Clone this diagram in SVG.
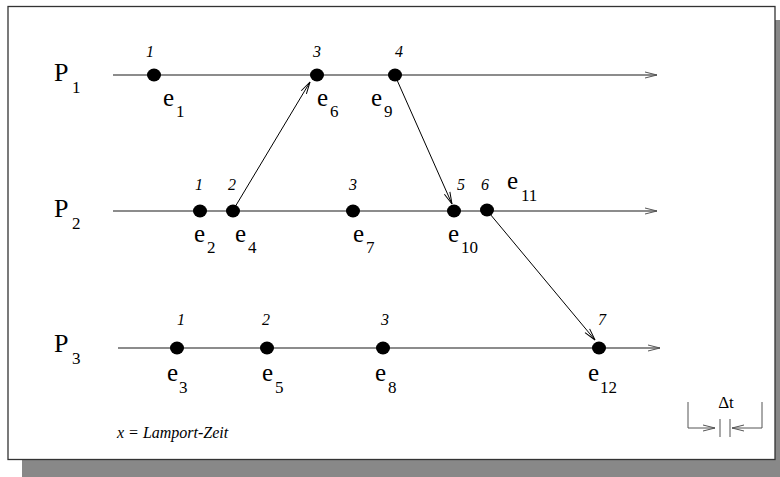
<svg xmlns="http://www.w3.org/2000/svg" width="780" height="477" viewBox="0 0 780 477" font-family="'Liberation Serif', 'DejaVu Serif', serif">
<defs>
<marker id="open" viewBox="0 0 14 8" refX="13" refY="4" markerWidth="14" markerHeight="8" markerUnits="userSpaceOnUse" orient="auto">
<path d="M1,1 L13,4 L1,7" fill="none" stroke="#555" stroke-width="1"/>
</marker>
<marker id="openb" viewBox="0 0 14 8" refX="13" refY="4" markerWidth="14" markerHeight="8" markerUnits="userSpaceOnUse" orient="auto">
<path d="M1,1 L13,4 L1,7" fill="none" stroke="#000" stroke-width="1"/>
</marker>
</defs>
<style>
.tl{stroke:#666;stroke-width:1.6;fill:none;marker-end:url(#open)}
.msg{stroke:#000;stroke-width:1;fill:none;marker-end:url(#openb)}
.dot{fill:#000}
.dt{stroke:#555;stroke-width:1;fill:none}
</style>
<rect x="22" y="20" width="758" height="457" fill="#888"/>
<rect x="8" y="6.5" width="767" height="453" fill="#fff" stroke="#333" stroke-width="1.3"/>

<g id="timelines">
<line class="tl" x1="113" y1="75" x2="657" y2="75"/>
<line class="tl" x1="113" y1="211" x2="657" y2="211"/>
<line class="tl" x1="118" y1="348" x2="660" y2="348"/>
</g>

<g id="connectors">
<line class="msg" x1="235" y1="207" x2="310" y2="82"/>
<line class="msg" x1="397" y1="80" x2="452" y2="204"/>
<line class="msg" x1="490" y1="214" x2="595" y2="340"/>
</g>

<g id="P1"><text font-size="26" x="54" y="81">P</text><text font-size="17" x="72" y="93">1</text></g>
<g id="P2"><text font-size="26" x="54" y="217">P</text><text font-size="17" x="72" y="229">2</text></g>
<g id="P3"><text font-size="26" x="54" y="352">P</text><text font-size="17" x="72" y="364">3</text></g>

<g id="events">
<g id="e1"><ellipse class="dot" cx="154" cy="75" rx="7" ry="6.5"/><text font-size="16" font-style="italic" text-anchor="middle" x="150" y="57">1</text><text font-size="25" x="163" y="106">e</text><text font-size="17" x="176" y="117">1</text></g>
<g id="e6"><ellipse class="dot" cx="317" cy="75" rx="7" ry="6.5"/><text font-size="16" font-style="italic" text-anchor="middle" x="317" y="57">3</text><text font-size="25" x="317" y="106">e</text><text font-size="17" x="330" y="117">6</text></g>
<g id="e9"><ellipse class="dot" cx="395" cy="75" rx="7" ry="6.5"/><text font-size="16" font-style="italic" text-anchor="middle" x="399" y="57">4</text><text font-size="25" x="371" y="106">e</text><text font-size="17" x="384" y="117">9</text></g>

<g id="e2"><ellipse class="dot" cx="200" cy="211" rx="7" ry="6.5"/><text font-size="16" font-style="italic" text-anchor="middle" x="199" y="190">1</text><text font-size="25" x="194" y="242">e</text><text font-size="17" x="207" y="253">2</text></g>
<g id="e4"><ellipse class="dot" cx="233" cy="211" rx="7" ry="6.5"/><text font-size="16" font-style="italic" text-anchor="middle" x="232" y="190">2</text><text font-size="25" x="235" y="242">e</text><text font-size="17" x="248" y="253">4</text></g>
<g id="e7"><ellipse class="dot" cx="353" cy="211" rx="7" ry="6.5"/><text font-size="16" font-style="italic" text-anchor="middle" x="353" y="190">3</text><text font-size="25" x="353" y="242">e</text><text font-size="17" x="366" y="253">7</text></g>
<g id="e10"><ellipse class="dot" cx="454" cy="211" rx="7" ry="6.5"/><text font-size="16" font-style="italic" text-anchor="middle" x="461" y="190">5</text><text font-size="25" x="448" y="242">e</text><text font-size="17" x="461" y="253">10</text></g>
<g id="e11"><ellipse class="dot" cx="487" cy="210" rx="7" ry="6.5"/><text font-size="16" font-style="italic" text-anchor="middle" x="485" y="190">6</text><text font-size="25" x="507" y="189">e</text><text font-size="17" x="521" y="201">11</text></g>

<g id="e3"><ellipse class="dot" cx="177" cy="348" rx="7" ry="6.5"/><text font-size="16" font-style="italic" text-anchor="middle" x="181" y="325">1</text><text font-size="25" x="167" y="381">e</text><text font-size="17" x="179" y="393">3</text></g>
<g id="e5"><ellipse class="dot" cx="267" cy="348" rx="7" ry="6.5"/><text font-size="16" font-style="italic" text-anchor="middle" x="266" y="325">2</text><text font-size="25" x="262" y="381">e</text><text font-size="17" x="275" y="393">5</text></g>
<g id="e8"><ellipse class="dot" cx="383" cy="348" rx="7" ry="6.5"/><text font-size="16" font-style="italic" text-anchor="middle" x="385" y="325">3</text><text font-size="25" x="375" y="381">e</text><text font-size="17" x="388" y="393">8</text></g>
<g id="e12"><ellipse class="dot" cx="599" cy="348" rx="7" ry="6.5"/><text font-size="16" font-style="italic" text-anchor="middle" x="602" y="325">7</text><text font-size="25" x="588" y="381">e</text><text font-size="17" x="600" y="393">12</text></g>
</g>

<g id="legend"><text x="117" y="438" font-size="16" font-style="italic">x = Lamport-Zeit</text></g>

<g id="deltat">
<text x="726" y="408" font-size="17" text-anchor="middle">Δt</text>
<path class="dt" d="M688,402 V428 H715" marker-end="url(#open)"/>
<path class="dt" d="M762,402 V428 H732" marker-end="url(#open)"/>
<line class="dt" x1="720" y1="419" x2="720" y2="437"/>
<line class="dt" x1="730" y1="419" x2="730" y2="437"/>
</g>
</svg>
